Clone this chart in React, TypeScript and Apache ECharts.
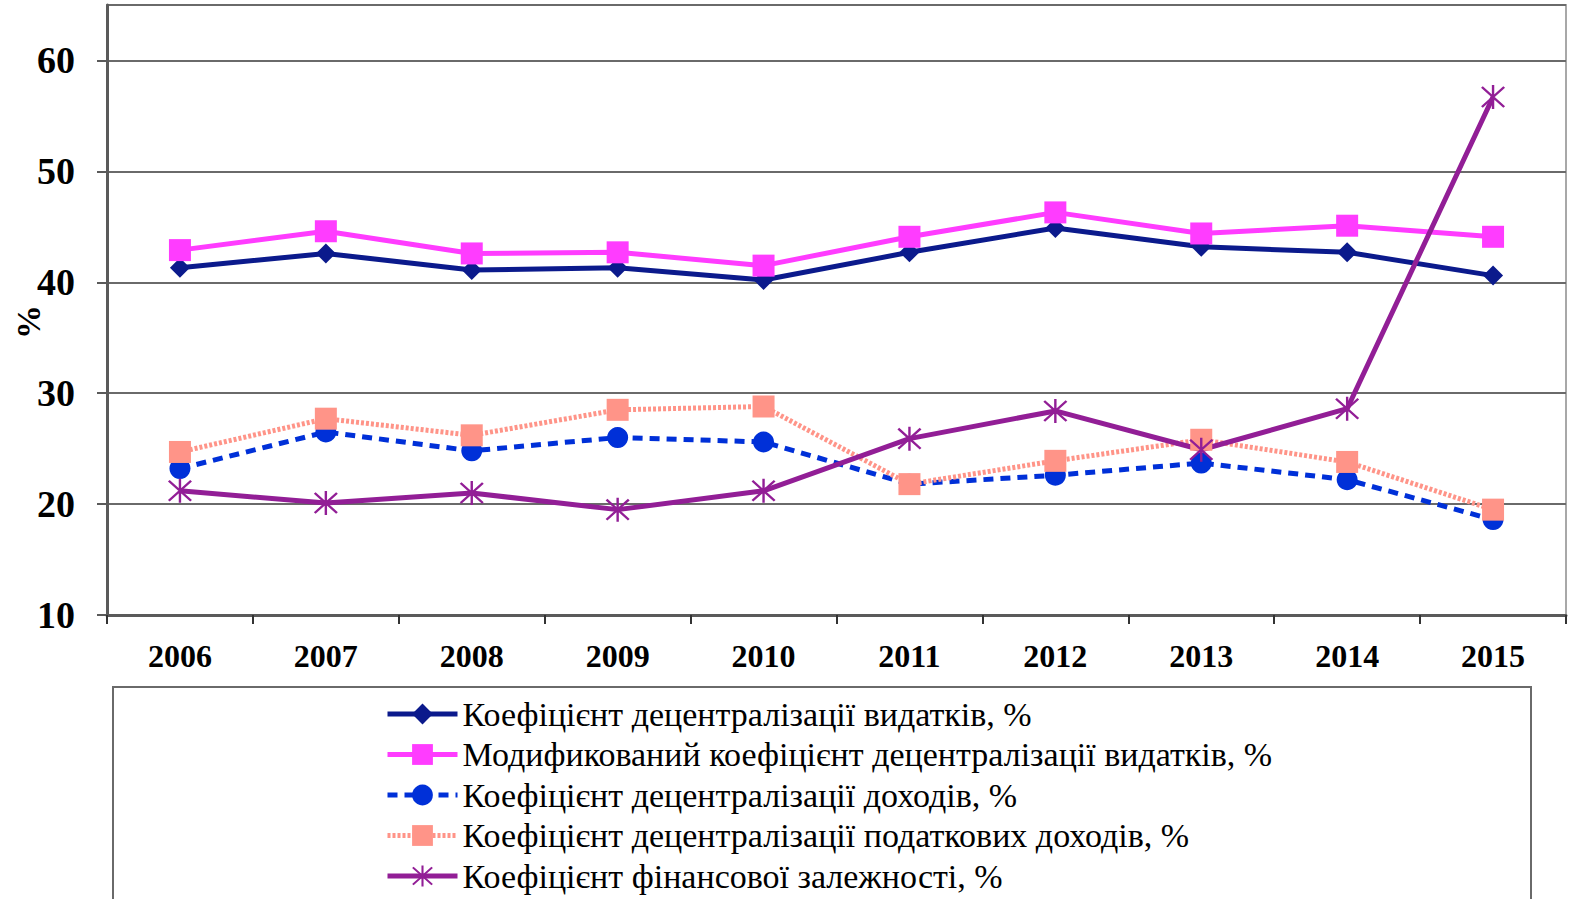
import React, { useEffect, useRef } from "react";
import * as echarts from "echarts";

const years = ["2006", "2007", "2008", "2009", "2010", "2011", "2012", "2013", "2014", "2015"];
const spendDecentral = [41.3, 42.6, 41.1, 41.3, 40.2, 42.7, 44.9, 43.2, 42.7, 40.6];
const spendDecentralMod = [42.9, 44.6, 42.6, 42.7, 41.5, 44.1, 46.3, 44.4, 45.1, 44.1];
const revenueDecentral = [23.2, 26.5, 24.8, 26.0, 25.6, 21.8, 22.6, 23.7, 22.2, 18.6];
const taxRevenueDecentral = [24.7, 27.7, 26.2, 28.5, 28.8, 21.8, 23.9, 25.8, 23.8, 19.5];
const financialDependence = [21.2, 20.1, 21.0, 19.5, 21.2, 25.9, 28.4, 24.9, 28.6, 56.7];

const seriesNames = [
  "Коефіцієнт децентралізації видатків, %",
  "Модификований коефіцієнт децентралізації видатків, %",
  "Коефіцієнт децентралізації доходів, %",
  "Коефіцієнт децентралізації податкових доходів, %",
  "Коефіцієнт фінансової залежності, %",
];
const yAxisTitle = "%";

const asterisk =
  "path://M9.1 0 L10.9 0 L10.9 20 L9.1 20 Z M1 2.3 L2.3 1 L19 17.7 L17.7 19 Z M17.7 1 L19 2.3 L2.3 19 L1 17.7 Z";

const serif = "'Liberation Serif', 'Times New Roman', serif";

export default function App() {
  const ref = useRef<HTMLDivElement>(null);
  useEffect(() => {
    if (!ref.current) return;
    const chart = echarts.init(ref.current, undefined, { renderer: "svg" });
    const mk = (name: string, data: number[], color: string, symbol: string, size: number, type: any) => ({
      name,
      type: "line",
      data,
      symbol,
      symbolSize: size,
      itemStyle: { color },
      lineStyle: { color, width: 5, type },
    });
    chart.setOption({
      animation: false,
      backgroundColor: "#ffffff",
      grid: {
        left: 107,
        right: 16,
        top: 5,
        bottom: 284,
        show: true,
        borderColor: "#a8a8a8",
        borderWidth: 2,
        outerBoundsMode: "none",
        containLabel: false,
      },
      xAxis: {
        type: "category",
        data: years,
        boundaryGap: true,
        axisLine: { lineStyle: { color: "#5a5a5a", width: 3 } },
        axisTick: { show: true, length: 9, inside: false, lineStyle: { color: "#333", width: 2 } },
        axisLabel: {
          color: "#000",
          fontFamily: serif,
          fontWeight: "bold",
          fontSize: 32,
          margin: 25,
        },
      },
      yAxis: {
        type: "value",
        min: 10,
        max: 65,
        interval: 10,
        axisLine: { show: true, lineStyle: { color: "#5a5a5a", width: 3 } },
        axisTick: { show: true, length: 10, lineStyle: { color: "#5a5a5a", width: 2 } },
        splitLine: { lineStyle: { color: "#6a6a6a", width: 2 } },
        axisLabel: {
          color: "#000",
          fontFamily: serif,
          fontWeight: "bold",
          fontSize: 38,
          margin: 32,
          showMaxLabel: false,
        },
      },
      legend: {
        orient: "vertical",
        left: 385,
        top: 697,
        height: 400,
        padding: 0,
        itemWidth: 70,
        itemHeight: 26,
        itemGap: 6.5,
        lineStyle: { width: 5 },
        textStyle: { color: "#000", fontFamily: serif, fontSize: 34 },
        data: seriesNames,
      },
      graphic: [
        {
          type: "rect",
          shape: { x: 113, y: 687, width: 1418, height: 260 },
          style: { fill: "none", stroke: "#6a6a6a", lineWidth: 2 },
          z: -1,
        },
        {
          type: "text",
          x: 28,
          y: 322,
          rotation: Math.PI / 2,
          style: {
            text: yAxisTitle,
            fill: "#000",
            font: "bold 34px " + serif,
            align: "center",
            verticalAlign: "middle",
          },
        },
      ],
      series: [
        mk(seriesNames[0], spendDecentral, "#0b1a8c", "diamond", 20, "solid"),
        mk(seriesNames[1], spendDecentralMod, "#ff3cff", "rect", 22, "solid"),
        mk(seriesNames[2], revenueDecentral, "#0030d8", "circle", 21, [10, 7]),
        mk(seriesNames[3], taxRevenueDecentral, "#ff9488", "rect", 22, [3, 2]),
        mk(seriesNames[4], financialDependence, "#921e96", asterisk, 24, "solid"),
      ],
    });
    return () => chart.dispose();
  }, []);
  return (
    <div
      ref={ref}
      style={{ position: "absolute", left: 0, top: 0, width: 1582, height: 899, background: "#fff" }}
    />
  );
}
